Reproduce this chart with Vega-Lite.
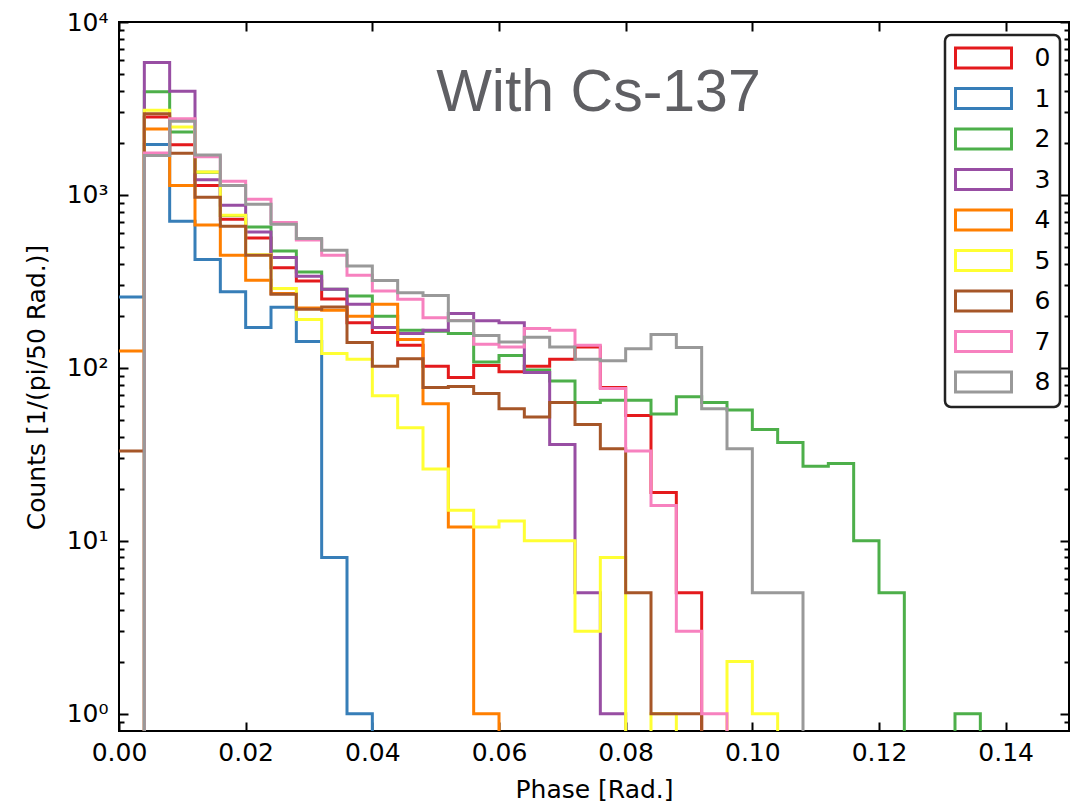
{
  "$schema": "https://vega.github.io/schema/vega-lite/v6.json",
  "width": 950,
  "height": 709,
  "autosize": {"type": "none"},
  "padding": {"left": 119, "top": 22, "right": 17, "bottom": 72},
  "background": "white",
  "config": {
    "view": {"stroke": "black", "strokeWidth": 2},
    "axis": {
      "domain": false, "grid": false, "labelFlush": false,
      "labelFont": "DejaVu Sans", "titleFont": "DejaVu Sans",
      "labelFontSize": 25, "titleFontSize": 25, "titleFontWeight": "normal",
      "labelColor": "black", "titleColor": "black",
      "tickColor": "black", "tickWidth": 2
    }
  },
  "layer": [
    {
      "data": {"values": [
        {"channel":"0","phase":0,"counts":0},{"channel":"0","phase":0.004,"counts":2820},{"channel":"0","phase":0.008,"counts":1950},{"channel":"0","phase":0.012,"counts":1135},{"channel":"0","phase":0.016,"counts":722},{"channel":"0","phase":0.02,"counts":564},{"channel":"0","phase":0.024,"counts":379},{"channel":"0","phase":0.028,"counts":318},{"channel":"0","phase":0.032,"counts":250},{"channel":"0","phase":0.036,"counts":182},{"channel":"0","phase":0.04,"counts":160},{"channel":"0","phase":0.044,"counts":135},{"channel":"0","phase":0.048,"counts":102},{"channel":"0","phase":0.052,"counts":88},{"channel":"0","phase":0.056,"counts":103},{"channel":"0","phase":0.06,"counts":95},{"channel":"0","phase":0.064,"counts":102},{"channel":"0","phase":0.068,"counts":112},{"channel":"0","phase":0.072,"counts":132},{"channel":"0","phase":0.076,"counts":77},{"channel":"0","phase":0.08,"counts":53},{"channel":"0","phase":0.084,"counts":19},{"channel":"0","phase":0.088,"counts":5},{"channel":"0","phase":0.092,"counts":0},

        {"channel":"1","phase":0,"counts":257},{"channel":"1","phase":0.004,"counts":1960},{"channel":"1","phase":0.008,"counts":703},{"channel":"1","phase":0.012,"counts":423},{"channel":"1","phase":0.016,"counts":275},{"channel":"1","phase":0.02,"counts":171},{"channel":"1","phase":0.024,"counts":224},{"channel":"1","phase":0.028,"counts":142},{"channel":"1","phase":0.032,"counts":8},{"channel":"1","phase":0.036,"counts":1},{"channel":"1","phase":0.04,"counts":0},

        {"channel":"2","phase":0,"counts":0},{"channel":"2","phase":0.004,"counts":3950},{"channel":"2","phase":0.008,"counts":2310},{"channel":"2","phase":0.012,"counts":1350},{"channel":"2","phase":0.016,"counts":760},{"channel":"2","phase":0.02,"counts":652},{"channel":"2","phase":0.024,"counts":474},{"channel":"2","phase":0.028,"counts":358},{"channel":"2","phase":0.032,"counts":285},{"channel":"2","phase":0.036,"counts":260},{"channel":"2","phase":0.04,"counts":199},{"channel":"2","phase":0.044,"counts":165},{"channel":"2","phase":0.048,"counts":163},{"channel":"2","phase":0.052,"counts":158},{"channel":"2","phase":0.056,"counts":108},{"channel":"2","phase":0.06,"counts":118},{"channel":"2","phase":0.064,"counts":97},{"channel":"2","phase":0.068,"counts":84},{"channel":"2","phase":0.072,"counts":63},{"channel":"2","phase":0.076,"counts":65},{"channel":"2","phase":0.08,"counts":65},{"channel":"2","phase":0.084,"counts":54},{"channel":"2","phase":0.088,"counts":68},{"channel":"2","phase":0.092,"counts":63},{"channel":"2","phase":0.096,"counts":57},{"channel":"2","phase":0.1,"counts":44},{"channel":"2","phase":0.104,"counts":37},{"channel":"2","phase":0.108,"counts":27},{"channel":"2","phase":0.112,"counts":28},{"channel":"2","phase":0.116,"counts":10},{"channel":"2","phase":0.12,"counts":5},{"channel":"2","phase":0.124,"counts":0},{"channel":"2","phase":0.128,"counts":0},{"channel":"2","phase":0.132,"counts":1},{"channel":"2","phase":0.136,"counts":0},

        {"channel":"3","phase":0,"counts":0},{"channel":"3","phase":0.004,"counts":5825},{"channel":"3","phase":0.008,"counts":3975},{"channel":"3","phase":0.012,"counts":1225},{"channel":"3","phase":0.016,"counts":871},{"channel":"3","phase":0.02,"counts":610},{"channel":"3","phase":0.024,"counts":434},{"channel":"3","phase":0.028,"counts":338},{"channel":"3","phase":0.032,"counts":285},{"channel":"3","phase":0.036,"counts":233},{"channel":"3","phase":0.04,"counts":171},{"channel":"3","phase":0.044,"counts":158},{"channel":"3","phase":0.048,"counts":165},{"channel":"3","phase":0.052,"counts":206},{"channel":"3","phase":0.056,"counts":187},{"channel":"3","phase":0.06,"counts":182},{"channel":"3","phase":0.064,"counts":94},{"channel":"3","phase":0.068,"counts":36},{"channel":"3","phase":0.072,"counts":5},{"channel":"3","phase":0.076,"counts":1},{"channel":"3","phase":0.08,"counts":0},

        {"channel":"4","phase":0,"counts":125},{"channel":"4","phase":0.004,"counts":2405},{"channel":"4","phase":0.008,"counts":1132},{"channel":"4","phase":0.012,"counts":670},{"channel":"4","phase":0.016,"counts":448},{"channel":"4","phase":0.02,"counts":321},{"channel":"4","phase":0.024,"counts":269},{"channel":"4","phase":0.028,"counts":222},{"channel":"4","phase":0.032,"counts":215},{"channel":"4","phase":0.036,"counts":199},{"channel":"4","phase":0.04,"counts":233},{"channel":"4","phase":0.044,"counts":146},{"channel":"4","phase":0.048,"counts":62},{"channel":"4","phase":0.052,"counts":12},{"channel":"4","phase":0.056,"counts":1},{"channel":"4","phase":0.06,"counts":0},

        {"channel":"5","phase":0,"counts":0},{"channel":"5","phase":0.004,"counts":3085},{"channel":"5","phase":0.008,"counts":2472},{"channel":"5","phase":0.012,"counts":1356},{"channel":"5","phase":0.016,"counts":762},{"channel":"5","phase":0.02,"counts":450},{"channel":"5","phase":0.024,"counts":288},{"channel":"5","phase":0.028,"counts":190},{"channel":"5","phase":0.032,"counts":121},{"channel":"5","phase":0.036,"counts":112},{"channel":"5","phase":0.04,"counts":69},{"channel":"5","phase":0.044,"counts":45},{"channel":"5","phase":0.048,"counts":26},{"channel":"5","phase":0.052,"counts":15},{"channel":"5","phase":0.056,"counts":12},{"channel":"5","phase":0.06,"counts":13},{"channel":"5","phase":0.064,"counts":10},{"channel":"5","phase":0.068,"counts":10},{"channel":"5","phase":0.072,"counts":3},{"channel":"5","phase":0.076,"counts":8},{"channel":"5","phase":0.08,"counts":0},{"channel":"5","phase":0.084,"counts":1},{"channel":"5","phase":0.088,"counts":0},{"channel":"5","phase":0.092,"counts":0},{"channel":"5","phase":0.096,"counts":2},{"channel":"5","phase":0.1,"counts":1},{"channel":"5","phase":0.104,"counts":0},

        {"channel":"6","phase":0,"counts":33},{"channel":"6","phase":0.004,"counts":2950},{"channel":"6","phase":0.008,"counts":1740},{"channel":"6","phase":0.012,"counts":968},{"channel":"6","phase":0.016,"counts":658},{"channel":"6","phase":0.02,"counts":448},{"channel":"6","phase":0.024,"counts":266},{"channel":"6","phase":0.028,"counts":218},{"channel":"6","phase":0.032,"counts":225},{"channel":"6","phase":0.036,"counts":140},{"channel":"6","phase":0.04,"counts":102},{"channel":"6","phase":0.044,"counts":113},{"channel":"6","phase":0.048,"counts":77},{"channel":"6","phase":0.052,"counts":78},{"channel":"6","phase":0.056,"counts":71},{"channel":"6","phase":0.06,"counts":58},{"channel":"6","phase":0.064,"counts":52},{"channel":"6","phase":0.068,"counts":63},{"channel":"6","phase":0.072,"counts":47},{"channel":"6","phase":0.076,"counts":34},{"channel":"6","phase":0.08,"counts":5},{"channel":"6","phase":0.084,"counts":1},{"channel":"6","phase":0.088,"counts":1},{"channel":"6","phase":0.092,"counts":0},

        {"channel":"7","phase":0,"counts":0},{"channel":"7","phase":0.004,"counts":1750},{"channel":"7","phase":0.008,"counts":2760},{"channel":"7","phase":0.012,"counts":1660},{"channel":"7","phase":0.016,"counts":1200},{"channel":"7","phase":0.02,"counts":944},{"channel":"7","phase":0.024,"counts":692},{"channel":"7","phase":0.028,"counts":548},{"channel":"7","phase":0.032,"counts":448},{"channel":"7","phase":0.036,"counts":343},{"channel":"7","phase":0.04,"counts":278},{"channel":"7","phase":0.044,"counts":249},{"channel":"7","phase":0.048,"counts":195},{"channel":"7","phase":0.052,"counts":188},{"channel":"7","phase":0.056,"counts":137},{"channel":"7","phase":0.06,"counts":132},{"channel":"7","phase":0.064,"counts":169},{"channel":"7","phase":0.068,"counts":165},{"channel":"7","phase":0.072,"counts":135},{"channel":"7","phase":0.076,"counts":76},{"channel":"7","phase":0.08,"counts":33},{"channel":"7","phase":0.084,"counts":16},{"channel":"7","phase":0.088,"counts":3},{"channel":"7","phase":0.092,"counts":1},{"channel":"7","phase":0.096,"counts":0},

        {"channel":"8","phase":0,"counts":0},{"channel":"8","phase":0.004,"counts":1690},{"channel":"8","phase":0.008,"counts":2670},{"channel":"8","phase":0.012,"counts":1700},{"channel":"8","phase":0.016,"counts":1132},{"channel":"8","phase":0.02,"counts":883},{"channel":"8","phase":0.024,"counts":676},{"channel":"8","phase":0.028,"counts":559},{"channel":"8","phase":0.032,"counts":478},{"channel":"8","phase":0.036,"counts":388},{"channel":"8","phase":0.04,"counts":320},{"channel":"8","phase":0.044,"counts":272},{"channel":"8","phase":0.048,"counts":262},{"channel":"8","phase":0.052,"counts":187},{"channel":"8","phase":0.056,"counts":154},{"channel":"8","phase":0.06,"counts":141},{"channel":"8","phase":0.064,"counts":150},{"channel":"8","phase":0.068,"counts":132},{"channel":"8","phase":0.072,"counts":112},{"channel":"8","phase":0.076,"counts":110},{"channel":"8","phase":0.08,"counts":129},{"channel":"8","phase":0.084,"counts":156},{"channel":"8","phase":0.088,"counts":131},{"channel":"8","phase":0.092,"counts":58},{"channel":"8","phase":0.096,"counts":34},{"channel":"8","phase":0.1,"counts":5},{"channel":"8","phase":0.104,"counts":5},{"channel":"8","phase":0.108,"counts":0}
      ]},
      "mark": {"type": "line", "interpolate": "step-after", "strokeWidth": 3, "clip": true, "invalid": "show"},
      "encoding": {
        "x": {
          "field": "phase", "type": "quantitative",
          "scale": {"domain": [0, 0.15], "nice": false, "zero": false},
          "axis": {"orient": "bottom", "values": [0, 0.02, 0.04, 0.06, 0.08, 0.1, 0.12, 0.14], "format": ".2f", "tickSize": -9, "labelPadding": 18, "title": "Phase [Rad.]", "titlePadding": 12}
        },
        "y": {
          "field": "counts", "type": "quantitative",
          "scale": {"type": "log", "domain": [0.6, 10000], "range": [730, 0], "clamp": true, "nice": false},
          "axis": {
            "orient": "left",
            "values": [1, 10, 100, 1000, 10000],
            "labelExpr": "datum.value == 1 ? '10⁰' : datum.value == 10 ? '10¹' : datum.value == 100 ? '10²' : datum.value == 1000 ? '10³' : '10⁴'",
            "tickSize": -9,
            "labelPadding": 20,
            "title": "Counts [1/(pi/50 Rad.)]",
            "titlePadding": 17
          }
        },
        "color": {
          "field": "channel", "type": "nominal",
          "scale": {"domain": ["0","1","2","3","4","5","6","7","8"], "range": ["#e41a1c","#377eb8","#4daf4a","#984ea3","#ff7f00","#ffff33","#a65628","#f781bf","#999999"]},
          "legend": {
            "orient": "none", "legendX": 826, "legendY": 13, "title": null,
            "symbolType": "M-2.24,-0.8L2.24,-0.8L2.24,0.8L-2.24,0.8Z", "symbolSize": 625, "symbolOffset": 15.5,
            "symbolStrokeWidth": 3, "symbolFillColor": "white",
            "labelFont": "DejaVu Sans", "labelFontSize": 25, "labelColor": "black", "labelOffset": 37,
            "rowPadding": 8.5, "padding": 9,
            "strokeColor": "#222222", "cornerRadius": 6, "fillColor": "white",
            "encode": {"legend": {"update": {"strokeWidth": {"value": 2.5}}}}
          }
        }
      }
    },
    {
      "data": {"values": [{"label": "With Cs-137", "px": 0.0757, "py": 3050}]},
      "mark": {"type": "text", "font": "Liberation Sans", "fontSize": 59, "color": "#5f5f63", "align": "center", "baseline": "alphabetic"},
      "encoding": {
        "x": {"field": "px", "type": "quantitative", "axis": {"orient": "top", "values": [0, 0.02, 0.04, 0.06, 0.08, 0.1, 0.12, 0.14], "labels": false, "tickSize": -9, "title": null}},
        "y": {"field": "py", "type": "quantitative", "axis": {"orient": "right", "values": [1, 10, 100, 1000, 10000], "labels": false, "tickSize": -9, "title": null}},
        "text": {"field": "label"}
      }
    },
    {
      "data": {"values": [{"px": 0.0757, "py": 3050}]},
      "mark": {"type": "text", "text": ""},
      "encoding": {
        "x": {"field": "px", "type": "quantitative", "axis": null},
        "y": {"field": "py", "type": "quantitative", "axis": {"orient": "left", "values": [0.9, 2, 3, 4, 5, 6, 7, 8, 9, 20, 30, 40, 50, 60, 70, 80, 90, 200, 300, 400, 500, 600, 700, 800, 900, 2000, 3000, 4000, 5000, 6000, 7000, 8000, 9000], "labels": false, "tickSize": -5, "title": null}}
      }
    },
    {
      "data": {"values": [{"px": 0.0757, "py": 3050}]},
      "mark": {"type": "text", "text": ""},
      "encoding": {
        "x": {"field": "px", "type": "quantitative", "axis": null},
        "y": {"field": "py", "type": "quantitative", "axis": {"orient": "right", "values": [0.9, 2, 3, 4, 5, 6, 7, 8, 9, 20, 30, 40, 50, 60, 70, 80, 90, 200, 300, 400, 500, 600, 700, 800, 900, 2000, 3000, 4000, 5000, 6000, 7000, 8000, 9000], "labels": false, "tickSize": -5, "title": null}}
      }
    }
  ],
  "resolve": {"axis": {"x": "independent", "y": "independent"}}
}
